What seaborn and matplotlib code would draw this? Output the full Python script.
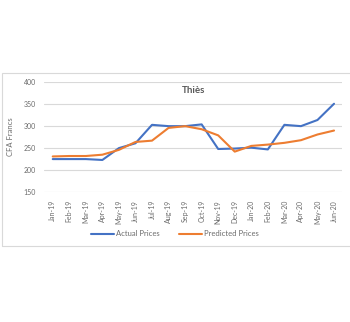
import matplotlib
matplotlib.use("Agg")
import matplotlib.pyplot as plt
import seaborn as sns
import pandas as pd
from matplotlib.patches import Rectangle
from matplotlib.lines import Line2D

months = ["Jan-19", "Feb-19", "Mar-19", "Apr-19", "May-19", "Jun-19", "Jul-19", "Aug-19", "Sep-19",
          "Oct-19", "Nov-19", "Dec-19", "Jan-20", "Feb-20", "Mar-20", "Apr-20", "May-20", "Jun-20"]
actual = [224, 224, 224, 222, 249, 260, 302, 299, 299, 303, 247, 248, 250, 246, 302, 299, 313, 350]
predicted = [230, 231, 231, 234, 245, 263, 266, 295, 299, 292, 278, 241, 254, 257, 261, 267, 280, 289]
yticks = [150, 200, 250, 300, 350, 400]

sns.set_theme(style="white")
plt.rcParams['font.family'] = ['Lato', 'DejaVu Sans']

df = pd.DataFrame({"Month": months * 2,
                   "Price": actual + predicted,
                   "Series": ["Actual Prices"] * len(months) + ["Predicted Prices"] * len(months)})
df["x"] = list(range(len(months))) * 2

fig = plt.figure(figsize=(3.5, 3.22), dpi=100)
fig.patch.set_facecolor("white")
fig.add_artist(Rectangle((0.006, 1 - 246 / 322), 1.2, (246 - 73) / 322, transform=fig.transFigure,
                         fill=False, edgecolor="#d9d9d9", linewidth=0.8))
ax = fig.add_axes([0.127, 0.405, 0.851, 0.341])
sns.lineplot(data=df, x="x", y="Price", hue="Series", palette=["#4472C4", "#ED7D31"],
             linewidth=1.5, ax=ax, legend=False)
ax.set_xlim(-0.5, len(months) - 0.5)
ax.set_ylim(150, 400)
ax.set_yticks(yticks)
ax.set_yticklabels([str(v) for v in yticks], fontsize=5, color="#6b6b6b")
ax.set_xticks(range(len(months)))
ax.set_xticklabels(months, rotation=90, fontsize=5, color="#6b6b6b")
ax.tick_params(axis="both", length=0, pad=6)
for y in yticks:
    ax.axhline(y, color="#d9d9d9", linewidth=0.8, zorder=0)
for s in ax.spines.values():
    s.set_visible(False)
ax.set_xlabel("")
ax.set_ylabel("CFA Francs", fontsize=5.5, color="#6b6b6b", labelpad=7)
ax.text(0.5, 1 - (90 - 81.7) / 110, "Thiès", transform=ax.transAxes, ha="center", va="center",
        fontsize=7, fontweight="bold", color="#595959")

handles = [Line2D([], [], color="#4472C4", lw=1.5), Line2D([], [], color="#ED7D31", lw=1.5)]
fig.legend(handles, ["Actual Prices", "Predicted Prices"], loc="center", bbox_to_anchor=(0.5, 1 - 234 / 322),
           ncol=2, frameon=False, fontsize=5.5, handlelength=3, columnspacing=2.5, handletextpad=0.3,
           labelcolor="#6b6b6b")
fig.savefig("out.png", dpi=100)
